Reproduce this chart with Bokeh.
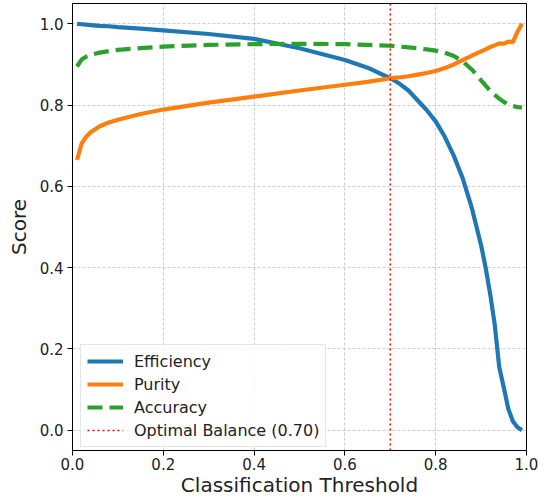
from bokeh.plotting import figure
from bokeh.models import FixedTicker, PrintfTickFormatter, Legend, LegendItem
from bokeh.embed import file_html
from bokeh.resources import INLINE

thresholds = [0.01, 0.02, 0.03, 0.04, 0.06, 0.08, 0.1, 0.15, 0.2, 0.3,
              0.4, 0.5, 0.6, 0.65, 0.7, 0.72, 0.74, 0.76, 0.78, 0.8,
              0.82, 0.84, 0.86, 0.88, 0.9, 0.91, 0.92, 0.93, 0.94, 0.95,
              0.96, 0.97, 0.98, 0.99]
efficiency = [1.0, 0.999, 0.998, 0.997, 0.995, 0.994, 0.992, 0.988, 0.984, 0.975,
              0.963, 0.940, 0.911, 0.892, 0.866, 0.853, 0.836, 0.812, 0.788, 0.760,
              0.722, 0.675, 0.618, 0.545, 0.455, 0.40, 0.335, 0.26, 0.155, 0.105,
              0.052, 0.022, 0.007, 0.0]
purity = [0.665, 0.705, 0.722, 0.733, 0.748, 0.757, 0.764, 0.778, 0.789, 0.806,
          0.821, 0.836, 0.850, 0.857, 0.866, 0.868, 0.871, 0.875, 0.879, 0.884,
          0.891, 0.900, 0.911, 0.922, 0.932, 0.937, 0.943, 0.947, 0.952, 0.951,
          0.956, 0.955, 0.98, 1.0]
accuracy = [0.895, 0.912, 0.919, 0.924, 0.929, 0.933, 0.936, 0.940, 0.944, 0.948,
            0.950, 0.951, 0.950, 0.948, 0.946, 0.944, 0.942, 0.940, 0.937, 0.934,
            0.929, 0.921, 0.907, 0.887, 0.861, 0.848, 0.835, 0.825, 0.816, 0.808,
            0.802, 0.798, 0.795, 0.794]
optimal_threshold = 0.70
y_lo, y_hi = -0.05, 1.05
tick_values = [0.0, 0.2, 0.4, 0.6, 0.8, 1.0]

FONT = "DejaVu Sans"

p = figure(width=540, height=499, x_range=(0, 1), y_range=(y_lo, y_hi),
           output_backend="svg", toolbar_location=None,
           min_border_left=72, min_border_right=14, min_border_top=3,
           min_border_bottom=48)

p.outline_line_color = "black"
p.outline_line_width = 1
p.background_fill_color = "white"
p.border_fill_color = "white"

for ax in (p.xaxis[0], p.yaxis[0]):
    ax.ticker = FixedTicker(ticks=tick_values)
    ax.formatter = PrintfTickFormatter(format="%.1f")
    ax.major_label_text_font = FONT
    ax.major_label_text_font_size = "15px"
    ax.major_label_text_color = "#222222"
    ax.axis_label_text_font = FONT
    ax.axis_label_text_font_size = "20px"
    ax.axis_label_text_font_style = "normal"
    ax.axis_label_text_color = "#222222"
    ax.axis_line_color = "black"
    ax.major_tick_line_color = "black"
    ax.major_tick_out = 5
    ax.major_tick_in = 0
    ax.minor_tick_line_color = None

p.xaxis[0].major_label_standoff = 2
p.xaxis[0].axis_label_standoff = 0
p.yaxis[0].major_label_standoff = 4
p.yaxis[0].axis_label_standoff = 6

p.xaxis.axis_label = "Classification Threshold"
p.yaxis.axis_label = "Score"

for g in (p.xgrid[0], p.ygrid[0]):
    g.ticker = FixedTicker(ticks=tick_values)
    g.grid_line_color = "#b0b0b0"
    g.grid_line_dash = "3 2"
    g.grid_line_alpha = 0.8
    g.grid_line_width = 0.8

r_eff = p.line(thresholds, efficiency, line_color="#1f77b4", line_width=4.2)
r_pur = p.line(thresholds, purity, line_color="#ff7f0e", line_width=4.2)
r_acc = p.line(thresholds, accuracy, line_color="#2ca02c", line_width=4.2,
               line_dash="15 7")
r_opt = p.line([optimal_threshold, optimal_threshold], [y_lo, y_hi],
               line_color="red", line_width=1.5, line_dash="2 3")

legend = Legend(items=[
    LegendItem(label="Efficiency", renderers=[r_eff]),
    LegendItem(label="Purity", renderers=[r_pur]),
    LegendItem(label="Accuracy", renderers=[r_acc]),
    LegendItem(label=f"Optimal Balance ({optimal_threshold:.2f})", renderers=[r_opt]),
], location=(8, 3))
legend.label_text_font = FONT
legend.label_text_font_size = "16px"
legend.label_text_color = "#222222"
legend.glyph_width = 36
legend.glyph_height = 20
legend.label_height = 20
legend.spacing = 3
legend.padding = 6
legend.margin = 0
legend.label_standoff = 11
legend.border_line_color = "#cccccc"
legend.border_line_width = 1
legend.background_fill_alpha = 0.8
p.add_layout(legend, "center")

open("out.html", "w").write(file_html(p, INLINE))
